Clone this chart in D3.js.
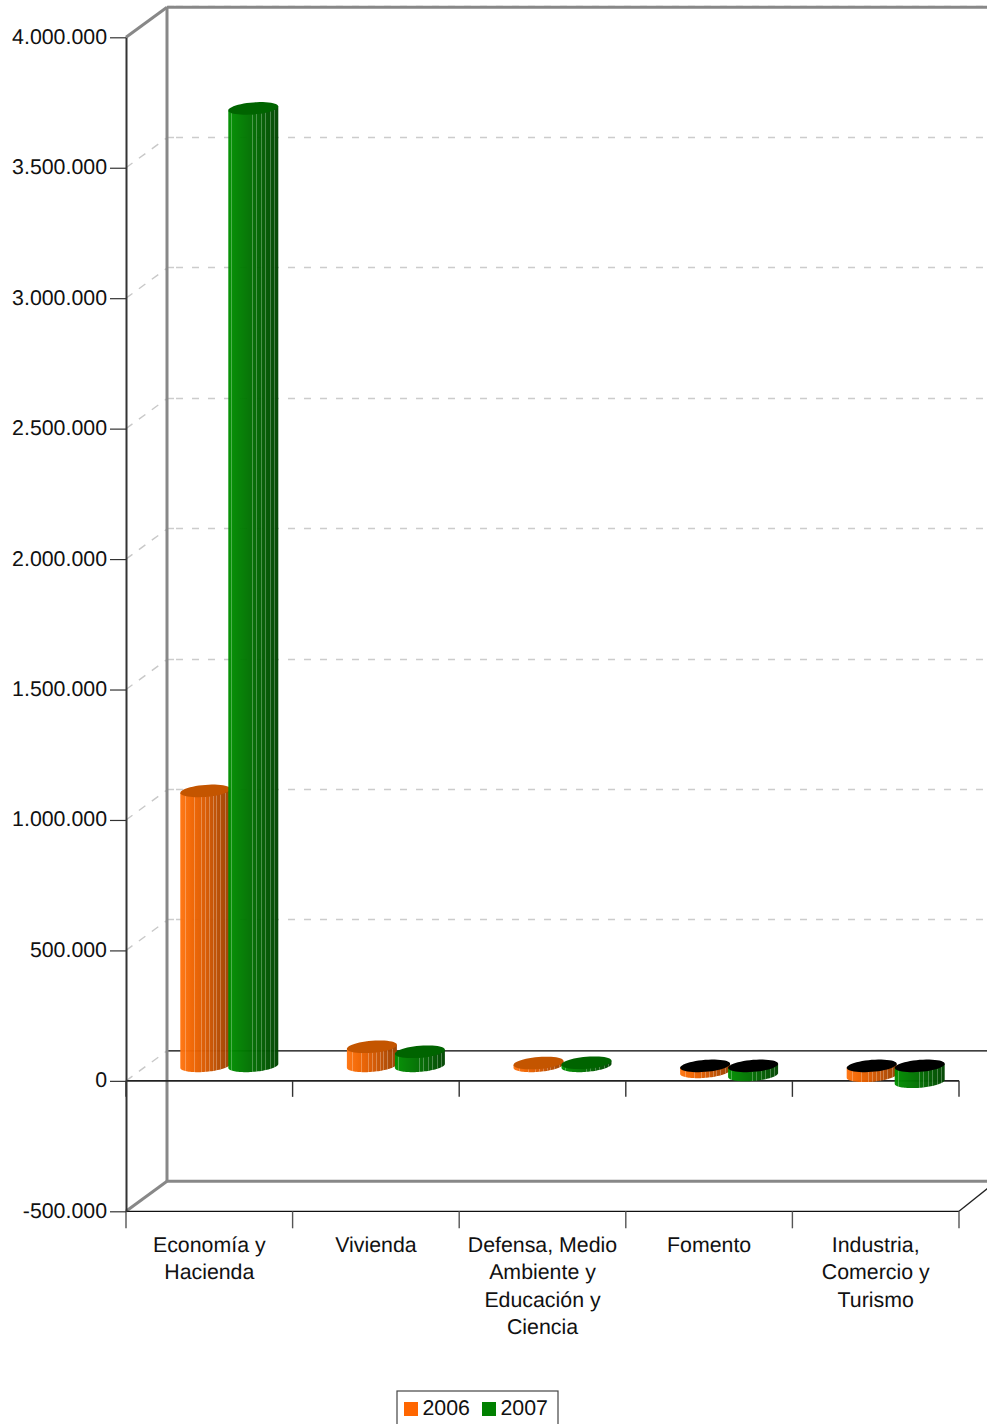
<!DOCTYPE html>
<html><head><meta charset="utf-8">
<script src="https://cdn.jsdelivr.net/npm/d3@7"></script>
<style>html,body{margin:0;padding:0;background:#fff;overflow:hidden}svg{display:block}text{font-family:"Liberation Sans",Arial,sans-serif;font-size:21.33px;fill:#111;text-rendering:geometricPrecision}</style>
</head><body><svg id="c" width="987" height="1424"></svg>
<script>
const categories = [["Economía y","Hacienda"],["Vivienda"],["Defensa, Medio","Ambiente y","Educación y","Ciencia"],["Fomento"],["Industria,","Comercio y","Turismo"]];
const seriesNames = ["2006","2007"];
const values2006 = [1054000, 73000, 11000, -23000, -38000];
const values2007 = [3670000, 54000, 12000, -35000, -61000];
const yTicks = [-500000,0,500000,1000000,1500000,2000000,2500000,3000000,3500000,4000000];
const bodyStops = [["#ff7410","#f06400","#d95900","#b84c00","#984000"],["#009000","#007e00","#006c00","#005800","#004400"]];
const topColors = ["#c45500","#006400"];
const legendColors = ["#ff6600","#008000"];
const ribs = [[5,14,21,25,29,33,36,40,45],[3,24,28,33,37,42,46]];

const svg = d3.select("#c");
const y = d3.scaleLinear().domain([-500000,4000000]).range([1211.3,37.3]);
const x = d3.scaleBand().domain(d3.range(categories.length)).range([126,959]);
const depthX = 41, depthY = -30;
const fmt = v => d3.format(",")(v).replace(/,/g,".").replace("\u2212","-");
const right = 987;

const defs = svg.append("defs");
seriesNames.forEach((s,i)=>{
  const g = defs.append("linearGradient").attr("id","g"+i);
  bodyStops[i].forEach((c,k)=>g.append("stop").attr("offset",k/(bodyStops[i].length-1)).attr("stop-color",c));
});

const dash = "7,9";
yTicks.filter(t=>t>0).forEach(t=>{
  const gy = Math.round(y(t)+depthY-1)+0.5;
  svg.append("line").attr("x1",168).attr("x2",174).attr("y1",gy).attr("y2",gy).attr("stroke","#ccc").attr("stroke-width",1.5);
  svg.append("line").attr("x1",x.range()[0]+depthX).attr("x2",right).attr("y1",gy).attr("y2",gy)
    .attr("stroke","#ccc").attr("stroke-width",1.5).attr("stroke-dasharray",dash).attr("stroke-dashoffset",7);
});
yTicks.filter(t=>t>=0&&t<4000000).forEach(t=>{
  svg.append("line").attr("x1",126).attr("y1",y(t)).attr("x2",126+depthX).attr("y2",y(t)+depthY)
    .attr("stroke","#c8c8c8").attr("stroke-width",1.4).attr("stroke-dasharray","8,8");
});
svg.append("line").attr("x1",167).attr("x2",right).attr("y1",y(0)+depthY).attr("y2",y(0)+depthY).attr("stroke","#000").attr("stroke-width",1.2);

const grey="#888";
const frame = [[[167,y(4000000)+depthY],[right,y(4000000)+depthY]],[[167,y(4000000)+depthY],[167,y(-500000)+depthY]],[[126,y(4000000)],[167,y(4000000)+depthY]],[[126,y(-500000)],[167,y(-500000)+depthY]],[[167,y(-500000)+depthY],[right,y(-500000)+depthY]]];
frame.forEach(f=>svg.append("path").attr("d",d3.line()(f)).attr("fill","none").attr("stroke",grey).attr("stroke-width",3));

svg.append("line").attr("x1",126).attr("x2",959).attr("y1",y(-500000)).attr("y2",y(-500000)).attr("stroke","#111").attr("stroke-width",1.3);
svg.append("line").attr("x1",959).attr("y1",y(-500000)).attr("x2",right+2).attr("y2",y(-500000)-24).attr("stroke","#222").attr("stroke-width",1.3);
svg.append("line").attr("x1",126).attr("x2",959).attr("y1",y(0)).attr("y2",y(0)).attr("stroke","#222").attr("stroke-width",1.6);
d3.range(categories.length+1).forEach(i=>{
  const px = i<categories.length ? x(i) : x.range()[1];
  svg.append("line").attr("x1",px).attr("x2",px).attr("y1",y(0)).attr("y2",y(0)+16).attr("stroke","#333").attr("stroke-width",1.4);
  svg.append("line").attr("x1",px).attr("x2",px).attr("y1",y(-500000)).attr("y2",y(-500000)+17).attr("stroke","#555").attr("stroke-width",1.4);
});

const ax = svg.append("g").attr("transform","translate(126,0)").call(
  d3.axisLeft(y).tickValues(yTicks).tickFormat(fmt).tickSize(16).tickSizeOuter(0).tickPadding(3));
ax.select(".domain").attr("stroke","#333").attr("stroke-width",2);
ax.selectAll(".tick line").attr("stroke","#333").attr("stroke-width",1.2);
ax.selectAll("text").attr("y",-0.8).style("font-family",'"Liberation Sans",Arial,sans-serif').style("font-size","21.33px").attr("fill","#111");

const inner = d3.scaleBand().domain(d3.range(2)).range([0,96]);
const a = 25, b = 6, k = 2;
function arcPts(cx,cy,t0,t1,n=48){
  return d3.range(n+1).map(i=>{const t=t0+(t1-t0)*i/n;return [cx+a*Math.cos(t), cy+b*Math.sin(t)-k*Math.cos(t)];});
}
const line = d3.line();
categories.forEach((c,ci)=>{
  [values2006,values2007].forEach((vals,si)=>{
    const v = vals[ci];
    const cx = x(ci)+x.bandwidth()/2+depthX/2-1-48+inner(si)+inner.bandwidth()/2+0.5;
    const y0 = y(0)+depthY/2, yv = y(v)+depthY/2;
    const g = svg.append("g");
    const yTop = Math.min(y0,yv), yBot = Math.max(y0,yv);
    const pts = [[cx-a,yTop+k],...arcPts(cx,yBot,Math.PI,0),[cx+a,yTop-k]];
    g.append("path").attr("d",line(pts)+"Z").attr("fill",`url(#g${si})`).attr("fill-opacity",0.97);
    ribs[si].forEach(o=>{
      const rx = Math.round(cx-a+o)+0.5;
      const t = Math.acos((rx-cx)/a);
      g.append("line").attr("x1",rx).attr("x2",rx).attr("y1",yTop+b*Math.sin(t)-k*Math.cos(t)).attr("y2",yBot+b*Math.sin(t)-k*Math.cos(t))
        .attr("stroke","#fff").attr("stroke-opacity",0.28).attr("stroke-width",1);
    });
    g.append("path").attr("d",line(arcPts(cx,yTop,0,2*Math.PI))+"Z").attr("fill",v<0?"#000":topColors[si]);
  });
});

categories.forEach((lines,ci)=>{
  const t = svg.append("text").attr("text-anchor","middle").attr("x",x(ci)+x.bandwidth()/2).attr("y",1252);
  lines.forEach((l,i)=>t.append("tspan").attr("x",x(ci)+x.bandwidth()/2).attr("y",1252+i*27.4).text(l));
});

svg.append("rect").attr("x",397).attr("y",1391).attr("width",161).attr("height",50).attr("fill","#fff").attr("stroke","#444").attr("stroke-width",1.2);
seriesNames.forEach((s,i)=>{
  svg.append("rect").attr("x",404+i*78).attr("y",1402).attr("width",14).attr("height",14).attr("fill",legendColors[i]);
  svg.append("text").attr("x",422.5+i*78).attr("y",1415).text(s);
});
</script></body></html>
